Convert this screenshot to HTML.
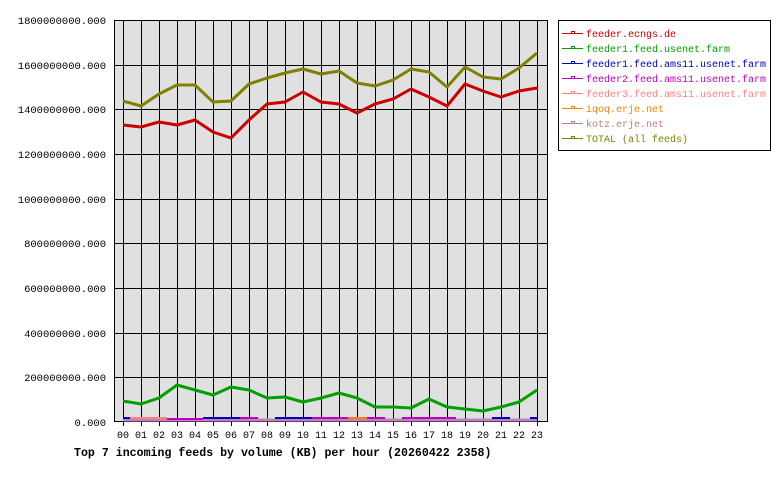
<!DOCTYPE html>
<html><head><meta charset="utf-8"><style>body{margin:0;background:#fff}svg{display:block}</style></head><body>
<svg width="780" height="480" xmlns="http://www.w3.org/2000/svg" font-family="Liberation Mono, monospace" font-size="10">
<rect x="114" y="20" width="434" height="402" fill="#e0e0e0"/>
<g stroke="#000" stroke-width="1">
<line x1="114" y1="20.5" x2="548" y2="20.5"/>
<line x1="114" y1="65.5" x2="548" y2="65.5"/>
<line x1="114" y1="109.5" x2="548" y2="109.5"/>
<line x1="114" y1="154.5" x2="548" y2="154.5"/>
<line x1="114" y1="199.5" x2="548" y2="199.5"/>
<line x1="114" y1="243.5" x2="548" y2="243.5"/>
<line x1="114" y1="288.5" x2="548" y2="288.5"/>
<line x1="114" y1="333.5" x2="548" y2="333.5"/>
<line x1="114" y1="377.5" x2="548" y2="377.5"/>
<line x1="114" y1="421.5" x2="548" y2="421.5"/>
<line x1="114.5" y1="20" x2="114.5" y2="422"/>
<line x1="547.5" y1="20" x2="547.5" y2="422"/>
</g>
<g stroke="#000" stroke-width="1">
<path d="M123.5 20V426M141.5 20V426M159.5 20V426M177.5 20V426M195.5 20V426M213.5 20V426M231.5 20V426M249.5 20V426M267.5 20V426M285.5 20V426M303.5 20V426M321.5 20V426M339.5 20V426M357.5 20V426M375.5 20V426M393.5 20V426M411.5 20V426M429.5 20V426M447.5 20V426M465.5 20V426M483.5 20V426M501.5 20V426M519.5 20V426M537.5 20V426"/>
</g>
<g text-anchor="end" fill="#000" font-size="10.5">
<text x="106" y="24">1800000000.000</text>
<text x="106" y="69">1600000000.000</text>
<text x="106" y="113">1400000000.000</text>
<text x="106" y="158">1200000000.000</text>
<text x="106" y="203">1000000000.000</text>
<text x="106" y="247">800000000.000</text>
<text x="106" y="292">600000000.000</text>
<text x="106" y="337">400000000.000</text>
<text x="106" y="381">200000000.000</text>
<text x="106" y="426">0.000</text>
</g>
<g text-anchor="middle" fill="#000">
<text x="123" y="438">00</text><text x="141" y="438">01</text><text x="159" y="438">02</text><text x="177" y="438">03</text><text x="195" y="438">04</text><text x="213" y="438">05</text><text x="231" y="438">06</text><text x="249" y="438">07</text><text x="267" y="438">08</text><text x="285" y="438">09</text><text x="303" y="438">10</text><text x="321" y="438">11</text><text x="339" y="438">12</text><text x="357" y="438">13</text><text x="375" y="438">14</text><text x="393" y="438">15</text><text x="411" y="438">16</text><text x="429" y="438">17</text><text x="447" y="438">18</text><text x="465" y="438">19</text><text x="483" y="438">20</text><text x="501" y="438">21</text><text x="519" y="438">22</text><text x="537" y="438">23</text>
</g>
<text x="74" y="456" font-weight="bold" font-size="11.6">Top 7 incoming feeds by volume (KB) per hour (20260422 2358)</text>
<g fill="none" stroke-width="2">
<path stroke="#c080c0" d="M123 420H537" stroke-width="3"/>
<path stroke="#ff8080" d="M130 418H167"/>
<path stroke="#0000c0" d="M123 418H130M203 418H240M275 418H312M492 418H510M530 418H537"/>
<path stroke="#ff8000" d="M348 418H367"/>
<path stroke="#c000c0" d="M167 419H203M240 418H258M312 418H348M367 418H385M402 418H456"/>
</g>
<g fill="none" stroke-width="3" stroke-linejoin="round">
<polyline stroke="#00a000" points="123,401 141,404 159,398 177,385 195,390 213,395 231,387 249,390 267,398 285,397 303,402 321,398 339,393 357,398 375,407 393,407 411,408 429,399 447,407 465,409 483,411 501,407 519,402 537,390"/>
<polyline stroke="#cc0000" points="123,125 141,127 159,122 177,125 195,120 213,132 231,138 249,120 267,104 285,102 303,92 321,102 339,104 357,113 375,104 393,99 411,89 429,97 447,106 465,84 483,91 501,97 519,91 537,88"/>
<polyline stroke="#808000" points="123,101 141,106 159,94 177,85 195,85 213,102 231,101 249,84 267,78 285,73 303,69 321,74 339,71 357,83 375,86 393,80 411,69 429,72 447,87 465,67 483,77 501,79 519,68 537,53"/>
</g>
<rect x="558.5" y="20.5" width="212" height="130" fill="#fff" stroke="#000"/>
<g stroke-width="1">
<g stroke="#cc0000"><line x1="562" y1="33.5" x2="583" y2="33.5"/><rect x="571.5" y="31.5" width="3" height="2" fill="none"/></g>
<g stroke="#00a000"><line x1="562" y1="48.5" x2="583" y2="48.5"/><rect x="571.5" y="46.5" width="3" height="2" fill="none"/></g>
<g stroke="#0000c0"><line x1="562" y1="63.5" x2="583" y2="63.5"/><rect x="571.5" y="61.5" width="3" height="2" fill="none"/></g>
<g stroke="#c000c0"><line x1="562" y1="78.5" x2="583" y2="78.5"/><rect x="571.5" y="76.5" width="3" height="2" fill="none"/></g>
<g stroke="#ff8080"><line x1="562" y1="93.5" x2="583" y2="93.5"/><rect x="571.5" y="91.5" width="3" height="2" fill="none"/></g>
<g stroke="#ff8000"><line x1="562" y1="108.5" x2="583" y2="108.5"/><rect x="571.5" y="106.5" width="3" height="2" fill="none"/></g>
<g stroke="#c08080"><line x1="562" y1="123.5" x2="583" y2="123.5"/><rect x="571.5" y="121.5" width="3" height="2" fill="none"/></g>
<g stroke="#808000"><line x1="562" y1="138.5" x2="583" y2="138.5"/><rect x="571.5" y="136.5" width="3" height="2" fill="none"/></g>
</g>
<text x="586" y="37" fill="#cc0000">feeder.ecngs.de</text>
<text x="586" y="52" fill="#00a000">feeder1.feed.usenet.farm</text>
<text x="586" y="67" fill="#0000c0">feeder1.feed.ams11.usenet.farm</text>
<text x="586" y="82" fill="#c000c0">feeder2.feed.ams11.usenet.farm</text>
<text x="586" y="97" fill="#ff8080">feeder3.feed.ams11.usenet.farm</text>
<text x="586" y="112" fill="#ff8000">iqoq.erje.net</text>
<text x="586" y="127" fill="#c08080">kotz.erje.net</text>
<text x="586" y="142" fill="#808000">TOTAL (all feeds)</text>
</svg>
</body></html>
